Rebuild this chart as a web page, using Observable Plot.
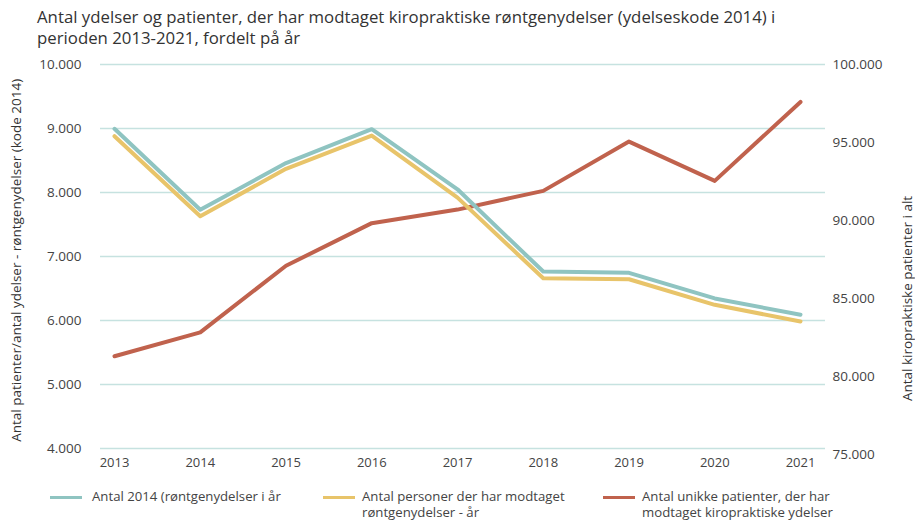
<!DOCTYPE html>
<html>
<head>
<meta charset="utf-8">
<script src="https://cdn.jsdelivr.net/npm/d3@7"></script>
<script src="https://cdn.jsdelivr.net/npm/@observablehq/plot@0.6"></script>
<style>
  html, body { margin: 0; padding: 0; background: #fff; }
  #wrap { position: relative; width: 915px; height: 520px; font-family: "Open Sans", sans-serif; color: #333; overflow: hidden; }
  #title { position: absolute; left: 37px; top: 6px; width: 860px; font-size: 16.8px; line-height: 21px; color: #333; white-space: nowrap; }
  #chart { position: absolute; left: 0; top: 52px; }
  .leg { position: absolute; font-size: 13.2px; line-height: 16px; color: #444; white-space: nowrap; }
  .sw { position: absolute; width: 32px; height: 3px; }
</style>
</head>
<body>
<div id="wrap">
  <div id="title"></div>
  <div id="chart"></div>
</div>
<script>
const titleLines = ["Antal ydelser og patienter, der har modtaget kiropraktiske røntgenydelser (ydelseskode 2014) i", "perioden 2013-2021, fordelt på år"];
const years = [2013, 2014, 2015, 2016, 2017, 2018, 2019, 2020, 2021];
const antal2014 = [8995, 7730, 8460, 8990, 8050, 6765, 6745, 6345, 6090];
const antalPersoner = [8880, 7630, 8370, 8890, 7920, 6660, 6645, 6245, 5985];
const unikkePatienter = [81300, 82830, 87100, 89830, 90700, 91900, 95060, 92540, 97600];
const leftTicks = [4000, 5000, 6000, 7000, 8000, 9000, 10000];
const rightTicks = [75000, 80000, 85000, 90000, 95000, 100000];
const seriesNames = ["Antal 2014 (røntgenydelser i år", "Antal personer der har modtaget røntgenydelser - år", "Antal unikke patienter, der har modtaget kiropraktiske ydelser"];
const legendLines = [["Antal 2014 (røntgenydelser i år"], ["Antal personer der har modtaget", "røntgenydelser - år"], ["Antal unikke patienter, der har", "modtaget kiropraktiske ydelser"]];
const seriesColors = ["#8fc4c1", "#e8c46a", "#c0624d"];
const leftTitle = "Antal patienter/antal ydelser - røntgenydelser (kode 2014)";
const rightTitle = "Antal kiropraktiske patienter i alt";

document.getElementById("title").innerHTML = titleLines.join("<br>");

const fmt = d => d3.format(",")(d).replace(/,/g, ".");
// map right-axis value onto the left axis scale
const toLeft = v => 10000 - (100000 - v) * (6094 / 25000);

const rows1 = years.map((y, i) => ({year: y, v: antal2014[i]}));
const rows2 = years.map((y, i) => ({year: y, v: antalPersoner[i]}));
const rows3 = years.map((y, i) => ({year: y, v: toLeft(unikkePatienter[i])}));

const chart = Plot.plot({
  width: 915,
  height: 425,
  marginTop: 12,
  marginBottom: 29,
  marginLeft: 100,
  marginRight: 90,
  style: {fontFamily: "Open Sans, sans-serif", fontSize: "13px", color: "#444"},
  x: {domain: [2013, 2021], range: [114, 800], axis: null},
  y: {domain: [4000, 10000], axis: null},
  marks: [
    Plot.ruleY(leftTicks, {stroke: "#c6e2e0", strokeWidth: 1.5}),
    Plot.text(leftTicks, {y: d => d, text: fmt, frameAnchor: "left", textAnchor: "end", dx: -19, fill: "#444", fontSize: 13.5}),
    Plot.text(rightTicks, {y: d => toLeft(d), text: fmt, frameAnchor: "right", textAnchor: "start", dx: 7, fill: "#444", fontSize: 13.5}),
    Plot.text(years, {x: d => d, text: d => String(d), frameAnchor: "bottom", dy: 18, fill: "#444", fontSize: 13}),
    Plot.text([leftTitle], {y: () => 6940, frameAnchor: "left", textAnchor: "middle", dx: -84, rotate: -90, fill: "#333", fontSize: 13.5}),
    Plot.text([rightTitle], {y: () => 6344, frameAnchor: "right", textAnchor: "middle", dx: 82, rotate: -90, fill: "#333", fontSize: 13.5}),
    Plot.line(rows3, {x: "year", y: "v", stroke: seriesColors[2], strokeWidth: 4}),
    Plot.line(rows2, {x: "year", y: "v", stroke: seriesColors[1], strokeWidth: 4}),
    Plot.line(rows1, {x: "year", y: "v", stroke: seriesColors[0], strokeWidth: 4})
  ]
});
document.getElementById("chart").appendChild(chart);

// legend
const wrap = document.getElementById("wrap");
const legPos = [{sx: 50, tx: 92}, {sx: 323, tx: 362}, {sx: 603, tx: 642}];
legPos.forEach((p, i) => {
  const sw = document.createElement("div");
  sw.className = "sw";
  sw.style.left = p.sx + "px";
  sw.style.top = "496px";
  sw.style.background = seriesColors[i];
  wrap.appendChild(sw);
  const t = document.createElement("div");
  t.className = "leg";
  t.style.left = p.tx + "px";
  t.style.top = "488px";
  t.title = seriesNames[i];
  t.innerHTML = legendLines[i].join("<br>");
  wrap.appendChild(t);
});
</script>
</body>
</html>
